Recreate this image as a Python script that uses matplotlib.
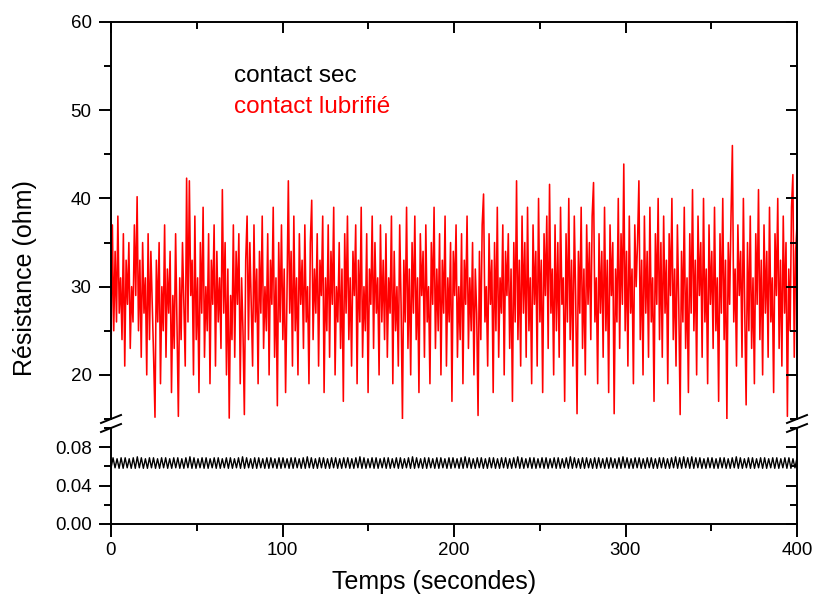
import numpy as np
import matplotlib
matplotlib.use("Agg")
import matplotlib.pyplot as plt
from matplotlib.lines import Line2D
from matplotlib.ticker import MultipleLocator

plt.rcParams['font.family'] = ['Liberation Sans', 'DejaVu Sans']

# ---- data: contact lubrifié (ohm), 0-400 s ----
lub_000_080 = [22, 37, 25, 34, 26, 38, 27, 31, 24, 36, 21, 33, 28, 35, 23, 30, 26, 37, 29, 40.2,
               25, 33, 22, 35, 27, 31, 20, 36, 24, 34, 28, 22, 15.2, 33, 26, 35, 19, 30, 25, 37,
               22, 32, 27, 34, 18, 29, 23, 36, 26, 15.3, 31, 24, 35, 28, 21, 42.3, 26, 42, 29, 33,
               20, 38, 24, 31, 18, 35, 27, 39, 22, 30, 25, 36, 19, 33, 28, 37, 21, 34, 26, 31,
               23, 41, 27, 35, 20, 32, 15.1, 29, 24, 37, 22, 34, 28, 36, 19, 31, 25, 15.5, 33, 38]
lub_080_160 = [24, 35, 28, 21, 37, 26, 32, 19, 34, 27, 38, 23, 30, 25, 36, 20, 33, 28, 39, 22,
               31, 16.5, 35, 26, 37, 24, 32, 18, 29, 42, 27, 34, 21, 38, 25, 31, 20, 36, 28, 33,
               23, 37, 26, 30, 19, 35, 39.8, 24, 32, 27, 36, 21, 33, 29, 38, 18, 31, 25, 37, 22,
               34, 28, 39, 20, 30, 26, 35, 23, 32, 17, 36, 27, 38, 24, 31, 21, 34, 29, 37, 19,
               33, 26, 39, 22, 30, 25, 36, 18, 32, 28, 38, 23, 35, 27, 31, 20, 37, 26, 33, 24]
lub_160_240 = [36, 22, 31, 27, 38, 19, 34, 25, 30, 21, 37, 28, 15, 33, 26, 39, 23, 32, 20, 35,
               27, 38, 24, 31, 18, 36, 29, 34, 22, 37, 26, 30, 19, 35, 28, 39, 23, 32, 25, 36,
               20, 33, 27, 38, 21, 31, 26, 35, 17, 34, 29, 37, 22, 30, 24, 36, 19, 33, 28, 38,
               23, 31, 25, 35, 20, 32, 27, 15.4, 34, 24, 37, 40.5, 26, 30, 21, 36, 28, 33, 18, 35,
               25, 39, 22, 31, 27, 37, 20, 34, 29, 36, 23, 32, 17, 35, 26, 42, 24, 33, 21, 38]
lub_240_320 = [27, 35, 22, 39, 25, 31, 19, 37, 28, 34, 21, 40, 26, 33, 18, 36, 29, 38, 23, 41.6,
               27, 32, 20, 37, 25, 35, 22, 39, 28, 31, 17, 36, 26, 40, 24, 33, 21, 38, 29, 15.6,
               34, 27, 39, 23, 32, 20, 37, 28, 35, 24, 38, 41.8, 26, 31, 19, 36, 27, 34, 22, 39,
               25, 33, 18, 37, 29, 35, 15.6, 32, 26, 40, 23, 36, 28, 43.9, 25, 34, 21, 38, 27, 32,
               19, 37, 30, 35, 42, 24, 33, 20, 38, 27, 34, 22, 39, 26, 31, 17, 36, 28, 40, 24]
lub_320_400 = [35, 22, 38, 27, 33, 19, 36, 29, 40, 24, 32, 21, 37, 28, 15.5, 34, 26, 39, 23, 31,
               18, 36, 27, 41, 25, 33, 20, 38, 29, 35, 22, 40, 26, 32, 19, 37, 28, 34, 23, 39,
               25, 31, 17, 36, 27, 40, 24, 33, 15, 35, 28, 38, 46, 26, 32, 21, 37, 29, 34, 22,
               40, 27, 16.6, 35, 25, 38, 23, 31, 19, 36, 28, 41, 24, 33, 20, 37, 27, 34, 22, 39,
               26, 31, 18, 36, 29, 40, 23, 33, 21, 38, 27, 35, 15.3, 32, 25, 39, 42.7, 22, 34, 37]

# ---- data: contact sec (ohm), peaks and troughs of the oscillation ----
sec_peaks = [0.069, 0.068, 0.069, 0.069, 0.068, 0.069, 0.070, 0.069, 0.068, 0.069,
             0.069, 0.068, 0.069, 0.069, 0.068, 0.069, 0.069, 0.068, 0.069, 0.070,
             0.069, 0.068, 0.069, 0.069, 0.068, 0.069, 0.069, 0.068, 0.069, 0.069,
             0.068, 0.069, 0.070, 0.069, 0.068, 0.069, 0.069, 0.068, 0.069, 0.069,
             0.068, 0.069, 0.069, 0.068, 0.069, 0.069, 0.068, 0.069, 0.070, 0.069,
             0.068, 0.069, 0.069, 0.068, 0.069, 0.069, 0.068, 0.069, 0.069, 0.068,
             0.069, 0.070, 0.069, 0.068, 0.069, 0.069, 0.068, 0.069, 0.069, 0.068,
             0.069, 0.069, 0.068, 0.069, 0.070, 0.069, 0.068, 0.069, 0.069, 0.068,
             0.069, 0.069, 0.068, 0.069, 0.069, 0.068, 0.069, 0.070, 0.069, 0.068,
             0.069, 0.069, 0.068, 0.069, 0.069, 0.068, 0.069, 0.069, 0.068, 0.069,
             0.070, 0.069, 0.068, 0.069, 0.069, 0.068, 0.069, 0.069, 0.068, 0.069,
             0.069, 0.068, 0.069, 0.070, 0.069, 0.068, 0.069, 0.069, 0.068, 0.069,
             0.069, 0.068, 0.069, 0.069, 0.068, 0.069, 0.070, 0.069, 0.068, 0.069,
             0.069, 0.068, 0.069, 0.069, 0.068, 0.069, 0.069, 0.068, 0.069, 0.070,
             0.069, 0.070, 0.069, 0.070, 0.069, 0.069, 0.068, 0.069, 0.069, 0.068,
             0.069, 0.069, 0.068, 0.069, 0.070, 0.069, 0.068, 0.069, 0.069, 0.068,
             0.069, 0.069, 0.068, 0.069, 0.069, 0.068, 0.069, 0.069, 0.068, 0.069]
sec_troughs = [0.058, 0.0585, 0.058, 0.058, 0.0585, 0.058, 0.058, 0.0585, 0.058, 0.058,
               0.0585, 0.058, 0.058, 0.0585, 0.058, 0.058, 0.0585, 0.058, 0.058, 0.0585,
               0.058, 0.058, 0.0585, 0.058, 0.058, 0.0585, 0.058, 0.058, 0.0585, 0.058,
               0.058, 0.0585, 0.058, 0.058, 0.0585, 0.058, 0.058, 0.0585, 0.058, 0.058,
               0.0585, 0.058, 0.058, 0.0585, 0.058, 0.058, 0.0585, 0.058, 0.058, 0.0585,
               0.058, 0.058, 0.0585, 0.058, 0.058, 0.0585, 0.058, 0.058, 0.0585, 0.058,
               0.058, 0.0585, 0.058, 0.058, 0.0585, 0.058, 0.058, 0.0585, 0.058, 0.058,
               0.0585, 0.058, 0.058, 0.0585, 0.058, 0.058, 0.0585, 0.058, 0.058, 0.0585,
               0.058, 0.058, 0.0585, 0.058, 0.058, 0.0585, 0.058, 0.058, 0.0585, 0.058,
               0.058, 0.0585, 0.058, 0.058, 0.0585, 0.058, 0.058, 0.0585, 0.058, 0.058,
               0.0585, 0.058, 0.058, 0.0585, 0.058, 0.058, 0.0585, 0.058, 0.058, 0.0585,
               0.058, 0.058, 0.0585, 0.058, 0.058, 0.0585, 0.058, 0.058, 0.0585, 0.058,
               0.058, 0.0585, 0.058, 0.058, 0.0585, 0.058, 0.058, 0.0585, 0.058, 0.058,
               0.0585, 0.058, 0.058, 0.0585, 0.058, 0.058, 0.0585, 0.058, 0.058, 0.0585,
               0.058, 0.058, 0.0585, 0.058, 0.058, 0.0585, 0.058, 0.058, 0.0585, 0.058,
               0.058, 0.0585, 0.058, 0.058, 0.0585, 0.058, 0.058, 0.0585, 0.058, 0.058,
               0.0585, 0.058, 0.058, 0.0585, 0.058, 0.058, 0.0585, 0.058, 0.058, 0.0585]

t_start, t_end = 0, 400
x_ticks = [0, 100, 200, 300, 400]
upper_ticks = [20, 30, 40, 50, 60]
lower_ticks = [0.00, 0.04, 0.08]
labels = ["contact sec", "contact lubrifié"]

# ---- build series ----
lub = np.array(lub_000_080 + lub_080_160 + lub_160_240 + lub_240_320 + lub_320_400)
t_lub = np.linspace(t_start, t_end, len(lub))
sec = np.empty(len(sec_peaks) + len(sec_troughs))
sec[0::2] = sec_troughs
sec[1::2] = sec_peaks
t_sec = np.linspace(t_start, t_end, len(sec))

W, H = 814, 598
fig = plt.figure(figsize=(W / 100, H / 100), dpi=100)

def fx(px):
    return px / W

def fy(py):
    return 1 - py / H

left, right = 111, 797
up_top, up_bot = 22, 419
lo_top, lo_bot = 428, 524

ax_up = fig.add_axes([fx(left), fy(up_bot), fx(right - left), fy(up_top) - fy(up_bot)])
ax_lo = fig.add_axes([fx(left), fy(lo_bot), fx(right - left), fy(lo_top) - fy(lo_bot)])

ax_up.plot(t_lub, lub, color='#ff0000', lw=1.15)
ax_lo.plot(t_sec, sec, color='black', lw=1.0)

ax_up.set_xlim(t_start, t_end)
ax_lo.set_xlim(t_start, t_end)

spine_lw = 1.4
for ax in (ax_up, ax_lo):
    for s in ax.spines.values():
        s.set_linewidth(spine_lw)
ax_up.spines['bottom'].set_visible(False)
ax_lo.spines['top'].set_visible(False)

fs_tick = 13.5
# upper axis ticks
ax_up.set_yticks(upper_ticks)
ax_up.yaxis.set_minor_locator(MultipleLocator(5))
ax_up.set_ylim(15, 60)
ax_up.set_xticks(x_ticks)
ax_up.xaxis.set_minor_locator(MultipleLocator(50))
ax_up.tick_params(axis='y', which='both', left=True, right=False, direction='out',
                  labelsize=fs_tick, width=spine_lw, pad=5)
ax_up.tick_params(axis='y', which='major', length=9)
ax_up.tick_params(axis='y', which='minor', length=5)
ax_up.tick_params(axis='x', which='both', bottom=False, top=True, labelbottom=False,
                  labeltop=False, direction='in', width=spine_lw)
ax_up.tick_params(axis='x', which='major', length=8)
ax_up.tick_params(axis='x', which='minor', length=5)
ax_up.set_xlim(t_start, t_end)

# lower axis ticks
ax_lo.set_yticks(lower_ticks)
ax_lo.set_yticklabels([f"{v:.2f}" for v in lower_ticks])
ax_lo.yaxis.set_minor_locator(MultipleLocator(0.02))
ax_lo.set_ylim(0, 0.1)
ax_lo.set_xticks(x_ticks)
ax_lo.xaxis.set_minor_locator(MultipleLocator(50))
ax_lo.tick_params(axis='y', which='both', left=True, right=False, direction='out',
                  labelsize=fs_tick, width=spine_lw, pad=5)
ax_lo.tick_params(axis='y', which='major', length=9)
ax_lo.tick_params(axis='y', which='minor', length=5)
ax_lo.tick_params(axis='x', which='both', bottom=True, top=False, direction='out',
                  labelsize=fs_tick, width=spine_lw, pad=4)
ax_lo.tick_params(axis='x', which='major', length=9)
ax_lo.tick_params(axis='x', which='minor', length=5)
ax_lo.set_xlim(t_start, t_end)

# inward ticks on the right spine (drawn via twin axes)
for ax, maj, mn in ((ax_up, upper_ticks, 5), (ax_lo, lower_ticks, 0.02)):
    tw = ax.twinx()
    lim = ax.get_ylim()
    tw.set_yticks(maj)
    tw.yaxis.set_minor_locator(MultipleLocator(mn))
    tw.set_ylim(lim)
    tw.tick_params(axis='y', which='both', direction='in', labelright=False, width=spine_lw)
    tw.tick_params(axis='y', which='major', length=8)
    tw.tick_params(axis='y', which='minor', length=5)
    for s in tw.spines.values():
        s.set_visible(False)

# axis labels
fig.text(fx(25), fy(278), "Résistance (ohm)", rotation=90,
         ha='center', va='center', fontsize=18)
fig.text(fx((left + right) / 2 - 20), fy(582), "Temps (secondes)", ha='center', va='center',
         fontsize=18)

# legend-like text
ax_up.text(71.7, 53.2, labels[0], color='black', fontsize=17.5, ha='left', va='baseline')
ax_up.text(71.7, 49.7, labels[1], color='#ff0000', fontsize=17.5, ha='left', va='baseline')

# break marks
for xc in (left, right):
    for yc in (419, 428):
        fig.add_artist(Line2D([fx(xc - 10), fx(xc + 10)], [fy(yc + 4), fy(yc - 4)],
                              color='black', lw=1.4))

fig.savefig("out.png", dpi=100)
